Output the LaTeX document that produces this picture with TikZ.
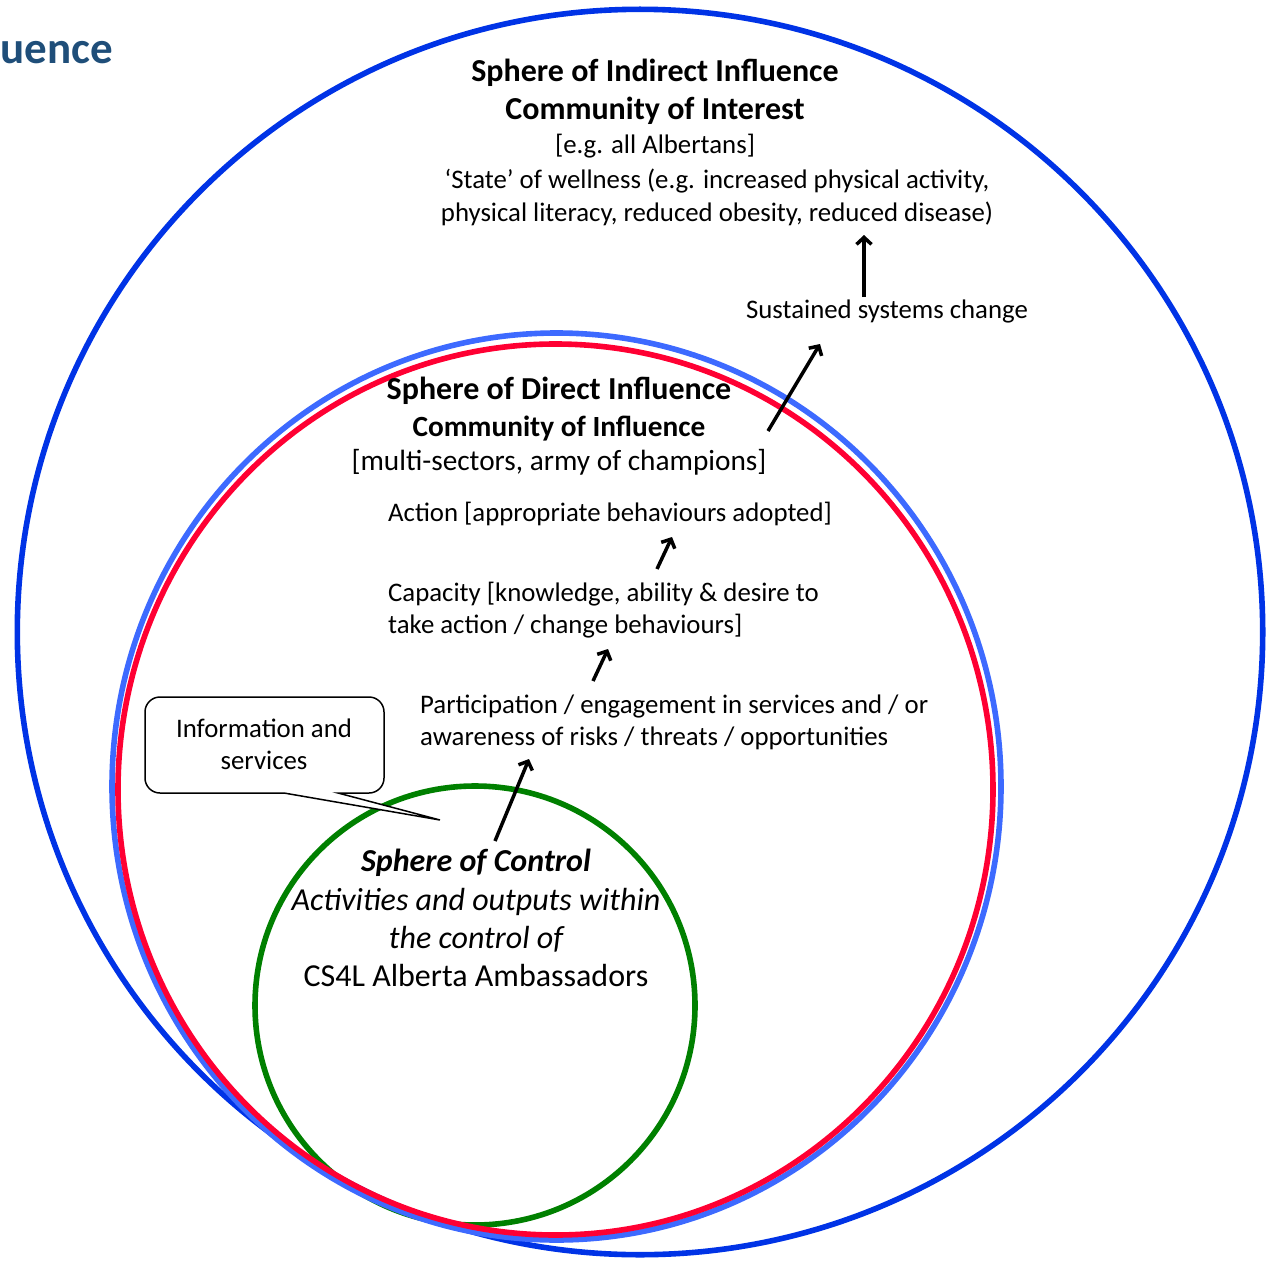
\documentclass[tikz,border=0pt]{standalone}
\usepackage{fontspec}
\setmainfont{Carlito}
\usetikzlibrary{arrows.meta}
\definecolor{outerblue}{RGB}{0,51,230}
\definecolor{lightblue}{RGB}{61,106,255}
\definecolor{redring}{RGB}{255,0,51}
\definecolor{greenring}{RGB}{0,128,0}
\definecolor{titleblue}{RGB}{31,78,121}
\begin{document}
\begin{tikzpicture}[x=1pt,y=-1pt,
  ring/.style={line width=5.6pt},
  arr/.style={line width=3.5pt,-{Straight Barb[length=7pt,width=15pt]}},
  reg/.style={font=\fontsize{26.8}{32}\selectfont, inner sep=0pt},
  mid/.style={font=\fontsize{29.3}{34}\selectfont, inner sep=0pt},
  ttl/.style={font=\bfseries\fontsize{32}{38}\selectfont, inner sep=0pt},
  grn/.style={font=\fontsize{32}{38}\selectfont, inner sep=0pt},
  callout/.style={line width=1.5pt}
]
\useasboundingbox (0,0) rectangle (1268,1260);

% rings
\draw[ring, outerblue] (640,632) ellipse [x radius=622.7pt, y radius=622.7pt];
\draw[ring, greenring] (475,1005.5) ellipse [x radius=220pt, y radius=219.5pt];
\draw[ring, lightblue] (556.5,786.5) ellipse [x radius=444.5pt, y radius=453.5pt];
\draw[ring, redring] (555.5,789.5) ellipse [x radius=437.5pt, y radius=445.5pt];

% cut-off title
\node[font=\bfseries\fontsize{45}{54}\selectfont, text=titleblue, inner sep=0pt, anchor=base east] (ttlcut) at (113,64) {uence};

% sphere of indirect influence
\node[ttl, anchor=base] (ind1) at (655,82) {Sphere of Indirect Influence};
\node[ttl, anchor=base] (ind2) at (655,120) {Community of Interest};
\node[reg, anchor=base] (ind3) at (655,154) {[e.g. all Albertans]};
\node[reg, anchor=base] (ind4) at (717,189) {‘State’ of wellness (e.g. increased physical activity,};
\node[reg, anchor=base] (ind5) at (717,221) {physical literacy, reduced obesity, reduced disease)};
\node[reg, anchor=base] (sys) at (887,318) {Sustained systems change};

% sphere of direct influence
\node[ttl, anchor=base] (dir1) at (559,399) {Sphere of Direct Influence};
\node[mid, font=\bfseries\fontsize{29.3}{34}\selectfont, anchor=base] (dir2) at (559,436) {Community of Influence};
\node[mid, anchor=base] (dir3) at (559,470) {[multi-sectors, army of champions]};
\node[reg, anchor=base west] (act) at (388,521) {Action [appropriate behaviours adopted]};
\node[reg, anchor=base west] (cap1) at (388,601) {Capacity [knowledge, ability \& desire to};
\node[reg, anchor=base west] (cap2) at (388,633) {take action / change behaviours]};
\node[reg, anchor=base west] (par1) at (420,713) {Participation / engagement in services and / or};
\node[reg, anchor=base west] (par2) at (420,745) {awareness of risks / threats / opportunities};

% sphere of control
\node[grn, font=\bfseries\itshape\fontsize{32}{38}\selectfont, anchor=base] (ctl1) at (476,871) {Sphere of Control};
\node[grn, font=\itshape\fontsize{32}{38}\selectfont, anchor=base] (ctl2) at (476,910) {Activities and outputs within};
\node[grn, font=\itshape\fontsize{32}{38}\selectfont, anchor=base] (ctl3) at (476,948) {the control of};
\node[grn, anchor=base] (ctl4) at (476,986) {CS4L Alberta Ambassadors};

% callout
\coordinate (tip) at (440,820);
\draw[callout, fill=white] (284,793) [rounded corners=15pt] -- (145,793) -- (145,697) -- (384,697) -- (384,793) [sharp corners] -- (338,793) -- (tip) -- cycle;
\node[reg, anchor=base] (info1) at (264,737) {Information and};
\node[reg, anchor=base] (info2) at (264,769) {services};

% arrows
\coordinate (a1s) at (864,297); \coordinate (a1e) at (864,235);
\coordinate (a2s) at (768,431); \coordinate (a2e) at (820,344);
\coordinate (a3s) at (657,569); \coordinate (a3e) at (672,537);
\coordinate (a4s) at (593,681); \coordinate (a4e) at (608,649);
\coordinate (a5s) at (495,841); \coordinate (a5e) at (529,759);
\draw[arr] (a1s) -- (a1e);
\draw[arr] (a2s) -- (a2e);
\draw[arr] (a3s) -- (a3e);
\draw[arr] (a4s) -- (a4e);
\draw[arr] (a5s) -- (a5e);
\end{tikzpicture}
\end{document}
